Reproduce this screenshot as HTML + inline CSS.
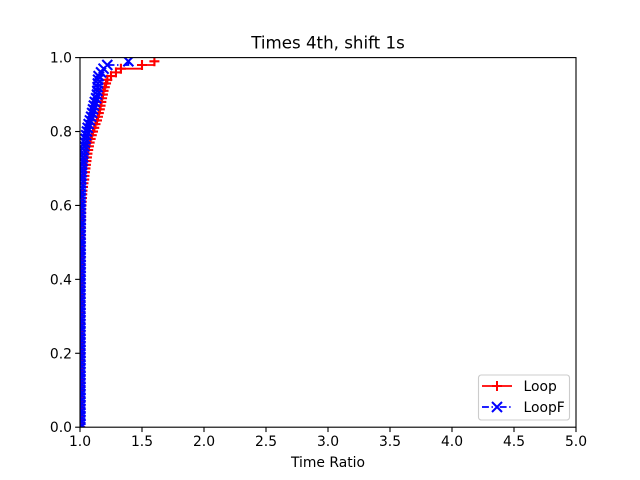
<!DOCTYPE html>
<html>
<head>
<meta charset="utf-8">
<style>
html,body{margin:0;padding:0;background:#fff;}
svg{display:block;}
text{font-family:"DejaVu Sans","Liberation Sans",sans-serif;fill:#000;}
</style>
</head>
<body>
<svg id="chart" xmlns="http://www.w3.org/2000/svg" width="640" height="480" viewBox="0 0 640 480">
<defs><clipPath id="plot-clip"><rect x="80" y="57.6" width="496" height="369.6"/></clipPath></defs>
<rect width="640" height="480" fill="#fff"/>
<rect x="80" y="57.6" width="496" height="369.6" fill="#fff"/>
<g id="series" clip-path="url(#plot-clip)"></g>
<g id="axes"></g>
<text x="328" y="48.5" font-size="16.67" text-anchor="middle">Times 4th, shift 1s</text>
<text x="328" y="467" font-size="13.89" text-anchor="middle">Time Ratio</text>
<g>
<rect x="478.5" y="375" width="91" height="45" rx="2.8" fill="#fff" fill-opacity="0.8" stroke="#ccc" stroke-width="1.1"/>
<g>
<line x1="482" y1="386" x2="512" y2="386" stroke="#f00" stroke-width="1.8"/>
<path d="M497 381V391M492 386H502" stroke="#f00" stroke-width="2" fill="none"/>
<text x="523.5" y="391" font-size="13.89">Loop</text>
</g>
<g>
<line x1="482" y1="407" x2="512" y2="407" stroke="#00f" stroke-width="1.8" stroke-dasharray="6.9 2.6 1.4 6.8"/>
<path d="M492 402L502 412M492 412L502 402" stroke="#00f" stroke-width="2" fill="none"/>
<text x="523.5" y="412" font-size="13.89">LoopF</text>
</g>
</g>
</svg>
<script>
const xTickLabels = ["1.0","1.5","2.0","2.5","3.0","3.5","4.0","4.5","5.0"];
const yTickLabels = ["0.0","0.2","0.4","0.6","0.8","1.0"];
const cumulativeFraction = [
0.00,0.01,0.02,0.03,0.04,0.05,0.06,0.07,0.08,0.09,
0.10,0.11,0.12,0.13,0.14,0.15,0.16,0.17,0.18,0.19,
0.20,0.21,0.22,0.23,0.24,0.25,0.26,0.27,0.28,0.29,
0.30,0.31,0.32,0.33,0.34,0.35,0.36,0.37,0.38,0.39,
0.40,0.41,0.42,0.43,0.44,0.45,0.46,0.47,0.48,0.49,
0.50,0.51,0.52,0.53,0.54,0.55,0.56,0.57,0.58,0.59,
0.60,0.61,0.62,0.63,0.64,0.65,0.66,0.67,0.68,0.69,
0.70,0.71,0.72,0.73,0.74,0.75,0.76,0.77,0.78,0.79,
0.80,0.81,0.82,0.83,0.84,0.85,0.86,0.87,0.88,0.89,
0.90,0.91,0.92,0.93,0.94,0.95,0.96,0.97,0.98,0.99];
const loopRatios = [
1.002,1.002,1.002,1.002,1.002,1.002,1.002,1.002,1.002,1.002,
1.002,1.002,1.002,1.002,1.002,1.002,1.002,1.002,1.002,1.002,
1.003,1.003,1.003,1.003,1.003,1.003,1.003,1.003,1.003,1.003,
1.003,1.003,1.003,1.003,1.003,1.004,1.004,1.004,1.004,1.004,
1.004,1.004,1.004,1.004,1.005,1.005,1.005,1.005,1.005,1.005,
1.006,1.006,1.007,1.007,1.008,1.008,1.009,1.009,1.01,1.01,
1.012,1.014,1.016,1.018,1.02,1.024,1.028,1.034,1.036,1.04,
1.044,1.048,1.052,1.056,1.06,1.066,1.072,1.078,1.086,1.095,
1.105,1.115,1.125,1.137,1.145,1.152,1.16,1.166,1.172,1.178,
1.185,1.19,1.2,1.21,1.22,1.25,1.29,1.33,1.50,1.60];
const loopFRatios = [
1.003,1.003,1.003,1.003,1.003,1.003,1.003,1.003,1.003,1.003,
1.003,1.003,1.003,1.003,1.003,1.003,1.003,1.003,1.003,1.003,
1.003,1.003,1.003,1.003,1.003,1.003,1.003,1.003,1.003,1.003,
1.003,1.003,1.003,1.003,1.003,1.003,1.003,1.003,1.003,1.003,
1.004,1.004,1.004,1.004,1.004,1.004,1.004,1.004,1.004,1.004,
1.004,1.004,1.004,1.004,1.004,1.005,1.005,1.005,1.005,1.005,
1.005,1.005,1.005,1.006,1.006,1.008,1.008,1.01,1.012,1.014,
1.016,1.018,1.022,1.025,1.028,1.032,1.036,1.04,1.045,1.05,
1.056,1.062,1.07,1.08,1.09,1.098,1.105,1.112,1.12,1.13,
1.137,1.14,1.142,1.144,1.146,1.15,1.17,1.19,1.22,1.39];

const NS = "http://www.w3.org/2000/svg";
const xMin = 1, xMax = 5, yMin = 0, yMax = 1;
const left = 80, right = 576, top_ = 57.6, bottom = 427.2;
function xScale(v){ return left + (v - xMin) / (xMax - xMin) * (right - left); }
function yScale(v){ return bottom - (v - yMin) / (yMax - yMin) * (bottom - top_); }
function make(tag, parent){
  const el = document.createElementNS(NS, tag);
  parent.appendChild(el);
  return el;
}
const seriesLayer = document.getElementById("series");
const axesLayer = document.getElementById("axes");

function stepPath(xs, ys){
  let d = "M" + xScale(xs[0]).toFixed(2) + " " + yScale(ys[0]).toFixed(2);
  for (let i = 1; i < xs.length; i++){
    d += "H" + xScale(xs[i]).toFixed(2) + "V" + yScale(ys[i]).toFixed(2);
  }
  return d;
}
function markerPath(xs, ys, kind){
  const r = 5;
  let d = "";
  for (let i = 0; i < xs.length; i++){
    const px = xScale(xs[i]), py = yScale(ys[i]);
    if (kind === "plus"){
      d += "M" + (px - r).toFixed(2) + " " + py.toFixed(2) + "H" + (px + r).toFixed(2);
      d += "M" + px.toFixed(2) + " " + (py - r).toFixed(2) + "V" + (py + r).toFixed(2);
    } else {
      d += "M" + (px - r).toFixed(2) + " " + (py - r).toFixed(2) + "L" + (px + r).toFixed(2) + " " + (py + r).toFixed(2);
      d += "M" + (px - r).toFixed(2) + " " + (py + r).toFixed(2) + "L" + (px + r).toFixed(2) + " " + (py - r).toFixed(2);
    }
  }
  return d;
}

const loopLine = make("path", seriesLayer);


loopLine.setAttribute("d", stepPath(loopRatios, cumulativeFraction));
loopLine.setAttribute("fill", "none");
loopLine.setAttribute("stroke", "#f00");
loopLine.setAttribute("stroke-width", "1.8");

const loopMarkers = make("path", seriesLayer);


loopMarkers.setAttribute("d", markerPath(loopRatios, cumulativeFraction, "plus"));
loopMarkers.setAttribute("fill", "none");
loopMarkers.setAttribute("stroke", "#f00");
loopMarkers.setAttribute("stroke-width", "2.1");

const loopFLine = make("path", seriesLayer);


loopFLine.setAttribute("d", stepPath(loopFRatios, cumulativeFraction));
loopFLine.setAttribute("fill", "none");
loopFLine.setAttribute("stroke", "#00f");
loopFLine.setAttribute("stroke-width", "1.8");
loopFLine.setAttribute("stroke-dasharray", "6.9 2.6 1.4 6.8");

const loopFMarkers = make("path", seriesLayer);


loopFMarkers.setAttribute("d", markerPath(loopFRatios, cumulativeFraction, "x"));
loopFMarkers.setAttribute("fill", "none");
loopFMarkers.setAttribute("stroke", "#00f");
loopFMarkers.setAttribute("stroke-width", "2.1");

xTickLabels.forEach(function(label){
  const px = Math.round(xScale(parseFloat(label)));
  const tick = make("line", axesLayer);
  
  
  tick.setAttribute("x1", px); tick.setAttribute("x2", px);
  tick.setAttribute("y1", bottom); tick.setAttribute("y2", bottom + 4.86);
  tick.setAttribute("stroke", "#000"); tick.setAttribute("stroke-width", "1.11");
  const text = make("text", axesLayer);
  
  
  text.setAttribute("x", px); text.setAttribute("y", bottom + 19);
  text.setAttribute("font-size", "13.89");
  text.setAttribute("text-anchor", "middle");
  text.textContent = label;
});
yTickLabels.forEach(function(label){
  const py = yScale(parseFloat(label));
  const tick = make("line", axesLayer);
  
  
  tick.setAttribute("x1", left - 4.86); tick.setAttribute("x2", left);
  tick.setAttribute("y1", py); tick.setAttribute("y2", py);
  tick.setAttribute("stroke", "#000"); tick.setAttribute("stroke-width", "1.11");
  const text = make("text", axesLayer);
  
  
  text.setAttribute("x", left - 8); text.setAttribute("y", py + 5);
  text.setAttribute("font-size", "13.89");
  text.setAttribute("text-anchor", "end");
  text.textContent = label;
});
const spine = make("rect", axesLayer);


spine.setAttribute("x", left); spine.setAttribute("y", top_);
spine.setAttribute("width", right - left); spine.setAttribute("height", bottom - top_);
spine.setAttribute("fill", "none");
spine.setAttribute("stroke", "#000");
spine.setAttribute("stroke-width", "1.11");
</script>
</body>
</html>
